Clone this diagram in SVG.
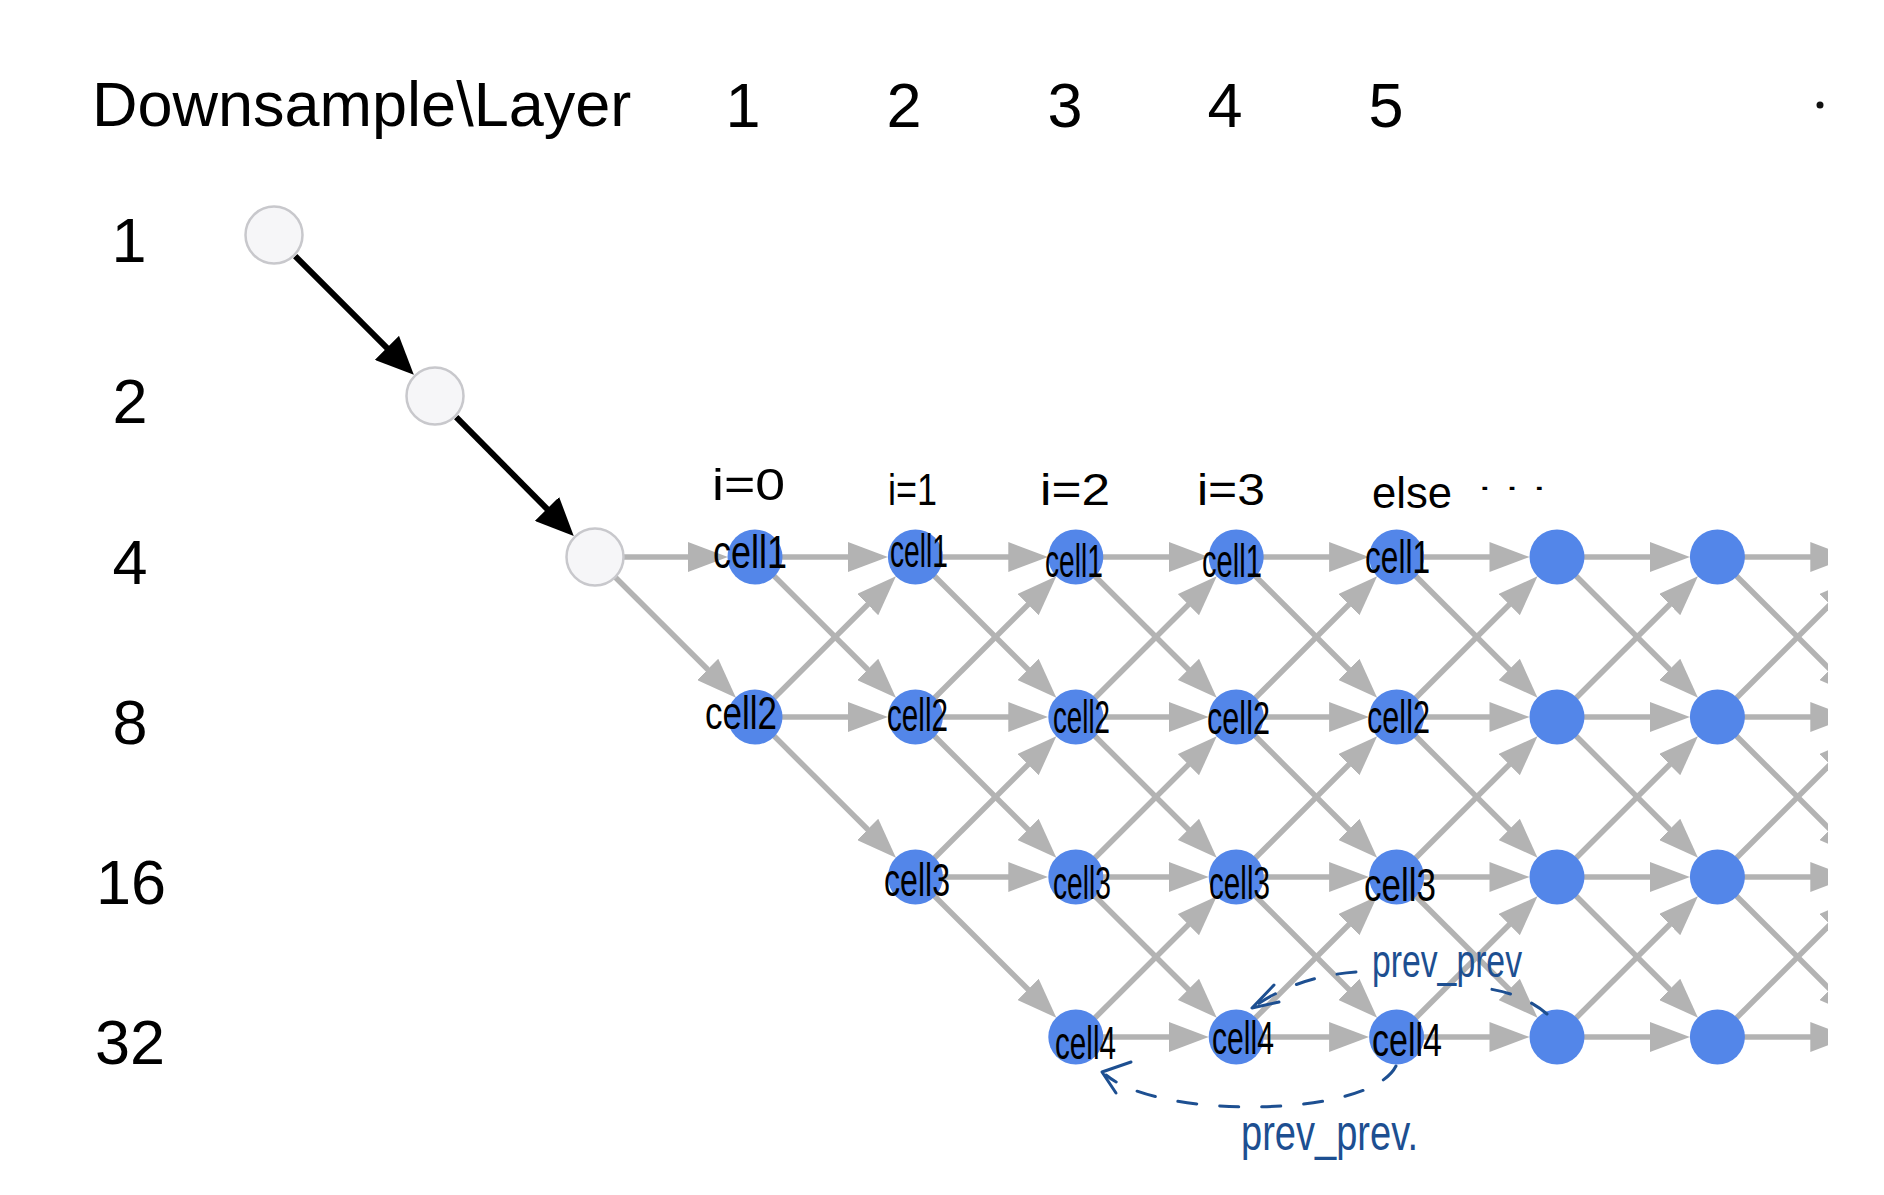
<svg xmlns="http://www.w3.org/2000/svg" width="1884" height="1195" viewBox="0 0 1884 1195">
<style>
.lbl{font-family:"Liberation Sans",Arial,sans-serif;font-size:63px;fill:#000}
.e{stroke:#b3b3b3;stroke-width:5.5;fill:none;marker-end:url(#ag)}
.k{stroke:#000;stroke-width:6;marker-end:url(#ak)}
.g{fill:#f6f6f8;stroke:#c8c8cc;stroke-width:2.5}
.b{fill:#5386e9}
.hw{font-family:"Liberation Sans",Arial,sans-serif;font-size:44px;fill:#000}
.cl{font-family:"Liberation Sans",Arial,sans-serif;font-size:47px;fill:#000}
.hb{font-family:"Liberation Sans",Arial,sans-serif;fill:#1d4f91}
.dash{fill:none;stroke:#1d4f91;stroke-width:3;stroke-dasharray:19 23;stroke-linecap:round}
.ah{fill:none;stroke:#1d4f91;stroke-width:3;stroke-linecap:round;stroke-linejoin:round}
</style>
<defs>
<marker id="ag" markerUnits="userSpaceOnUse" markerWidth="40" markerHeight="30" refX="20" refY="15" orient="auto" viewBox="0 0 40 30"><path d="M0,0L40,15L0,30z" fill="#b3b3b3"/></marker>
<marker id="ak" markerUnits="userSpaceOnUse" markerWidth="38" markerHeight="34" refX="19" refY="17" orient="auto" viewBox="0 0 38 34"><path d="M0,0L38,17L0,34z" fill="#000"/></marker>
<line id="eh" class="e" x1="0" y1="0" x2="112.9" y2="0"/>
<line id="ed" class="e" x1="0" y1="0" x2="126.8" y2="126.5"/>
<line id="eu" class="e" x1="0" y1="0" x2="126.8" y2="-126.5"/>
<g id="colset">
<use href="#eh"/><use href="#ed"/>
<use href="#eh" y="160"/><use href="#eu" y="160"/><use href="#ed" y="160"/>
<use href="#eh" y="320"/><use href="#eu" y="320"/><use href="#ed" y="320"/>
<use href="#eh" y="480"/><use href="#eu" y="480"/>
</g>
<clipPath id="clip"><rect x="0" y="0" width="1828" height="1195"/></clipPath>
</defs>
<rect width="1884" height="1195" fill="#fff"/>

<g id="headers">
<text class="lbl" x="92" y="126">Downsample\Layer</text>
<text class="lbl" x="743" y="127" text-anchor="middle">1</text>
<text class="lbl" x="904" y="127" text-anchor="middle">2</text>
<text class="lbl" x="1065" y="127" text-anchor="middle">3</text>
<text class="lbl" x="1225" y="127" text-anchor="middle">4</text>
<text class="lbl" x="1386" y="127" text-anchor="middle">5</text>
<circle cx="1820" cy="105" r="3.5" fill="#111"/>
<text class="lbl" x="129" y="262" text-anchor="middle">1</text>
<text class="lbl" x="130" y="423" text-anchor="middle">2</text>
<text class="lbl" x="130" y="584" text-anchor="middle">4</text>
<text class="lbl" x="130" y="744" text-anchor="middle">8</text>
<text class="lbl" x="131" y="904" text-anchor="middle">16</text>
<text class="lbl" x="130" y="1064" text-anchor="middle">32</text>
</g>

<g id="connectors" clip-path="url(#clip)">
<line class="k" x1="295.2" y1="256.2" x2="400.4" y2="361.3"/>
<line class="k" x1="456.2" y1="417.2" x2="560.4" y2="522.4"/>
<use href="#eh" x="595" y="557"/><use href="#ed" x="595" y="557"/>
<use href="#eh" x="755" y="557"/><use href="#ed" x="755" y="557"/>
<use href="#eh" x="755" y="717"/><use href="#eu" x="755" y="717"/><use href="#ed" x="755" y="717"/>
<use href="#eh" x="915.4" y="557"/><use href="#ed" x="915.4" y="557"/>
<use href="#eh" x="915.4" y="717"/><use href="#eu" x="915.4" y="717"/><use href="#ed" x="915.4" y="717"/>
<use href="#eh" x="915.4" y="877"/><use href="#eu" x="915.4" y="877"/><use href="#ed" x="915.4" y="877"/>
<use href="#colset" x="1075.8" y="557"/>
<use href="#colset" x="1236.2" y="557"/>
<use href="#colset" x="1396.6" y="557"/>
<use href="#colset" x="1557" y="557"/>
<use href="#colset" x="1717.4" y="557"/>
</g>

<g id="nodes">
<g id="n-l0-d1"><circle class="g" cx="274" cy="235" r="28.5"/></g>
<g id="n-l1-d2"><circle class="g" cx="435" cy="396" r="28.5"/></g>
<g id="n-l2-d4"><circle class="g" cx="595" cy="557" r="28.5"/></g>

<g id="n-l3-d4"><circle class="b" cx="755" cy="557" r="27.5"/><text class="cl" x="713" y="568" textLength="74" lengthAdjust="spacingAndGlyphs">cell1</text></g>
<g id="n-l3-d8"><circle class="b" cx="755" cy="717" r="27.5"/><text class="cl" x="705" y="729" textLength="72" lengthAdjust="spacingAndGlyphs">cell2</text></g>

<g id="n-l4-d4"><circle class="b" cx="915.4" cy="557" r="27.5"/><text class="cl" x="890" y="567" textLength="58" lengthAdjust="spacingAndGlyphs">cell1</text></g>
<g id="n-l4-d8"><circle class="b" cx="915.4" cy="717" r="27.5"/><text class="cl" x="887" y="731" textLength="61" lengthAdjust="spacingAndGlyphs">cell2</text></g>
<g id="n-l4-d16"><circle class="b" cx="915.4" cy="877" r="27.5"/><text class="cl" x="884" y="896" textLength="66" lengthAdjust="spacingAndGlyphs">cell3</text></g>

<g id="n-l5-d4"><circle class="b" cx="1075.8" cy="557" r="27.5"/><text class="cl" x="1045" y="577" textLength="58" lengthAdjust="spacingAndGlyphs">cell1</text></g>
<g id="n-l5-d8"><circle class="b" cx="1075.8" cy="717" r="27.5"/><text class="cl" x="1053" y="733" textLength="57" lengthAdjust="spacingAndGlyphs">cell2</text></g>
<g id="n-l5-d16"><circle class="b" cx="1075.8" cy="877" r="27.5"/><text class="cl" x="1053" y="899" textLength="58" lengthAdjust="spacingAndGlyphs">cell3</text></g>
<g id="n-l5-d32"><circle class="b" cx="1075.8" cy="1037" r="27.5"/><text class="cl" x="1055" y="1059" textLength="61" lengthAdjust="spacingAndGlyphs">cell4</text></g>

<g id="n-l6-d4"><circle class="b" cx="1236.2" cy="557" r="27.5"/><text class="cl" x="1202" y="577" textLength="60" lengthAdjust="spacingAndGlyphs">cell1</text></g>
<g id="n-l6-d8"><circle class="b" cx="1236.2" cy="717" r="27.5"/><text class="cl" x="1207" y="734" textLength="63" lengthAdjust="spacingAndGlyphs">cell2</text></g>
<g id="n-l6-d16"><circle class="b" cx="1236.2" cy="877" r="27.5"/><text class="cl" x="1209" y="899" textLength="61" lengthAdjust="spacingAndGlyphs">cell3</text></g>
<g id="n-l6-d32"><circle class="b" cx="1236.2" cy="1037" r="27.5"/><text class="cl" x="1212" y="1054" textLength="62" lengthAdjust="spacingAndGlyphs">cell4</text></g>

<g id="n-l7-d4"><circle class="b" cx="1396.6" cy="557" r="27.5"/><text class="cl" x="1365" y="573" textLength="65" lengthAdjust="spacingAndGlyphs">cell1</text></g>
<g id="n-l7-d8"><circle class="b" cx="1396.6" cy="717" r="27.5"/><text class="cl" x="1367" y="733" textLength="63" lengthAdjust="spacingAndGlyphs">cell2</text></g>
<g id="n-l7-d16"><circle class="b" cx="1396.6" cy="877" r="27.5"/><text class="cl" x="1364" y="901" textLength="72" lengthAdjust="spacingAndGlyphs">cell3</text></g>
<g id="n-l7-d32"><circle class="b" cx="1396.6" cy="1037" r="27.5"/><text class="cl" x="1372" y="1056" textLength="70" lengthAdjust="spacingAndGlyphs">cell4</text></g>

<g id="n-l8-d4"><circle class="b" cx="1557" cy="557" r="27.5"/></g>
<g id="n-l8-d8"><circle class="b" cx="1557" cy="717" r="27.5"/></g>
<g id="n-l8-d16"><circle class="b" cx="1557" cy="877" r="27.5"/></g>
<g id="n-l8-d32"><circle class="b" cx="1557" cy="1037" r="27.5"/></g>

<g id="n-l9-d4"><circle class="b" cx="1717.4" cy="557" r="27.5"/></g>
<g id="n-l9-d8"><circle class="b" cx="1717.4" cy="717" r="27.5"/></g>
<g id="n-l9-d16"><circle class="b" cx="1717.4" cy="877" r="27.5"/></g>
<g id="n-l9-d32"><circle class="b" cx="1717.4" cy="1037" r="27.5"/></g>
</g>

<g id="annotations">
<text class="hw" x="712" y="500" textLength="73" lengthAdjust="spacingAndGlyphs">i=0</text>
<text class="hw" x="888" y="505" textLength="49" lengthAdjust="spacingAndGlyphs">i=1</text>
<text class="hw" x="1040" y="505" textLength="70" lengthAdjust="spacingAndGlyphs">i=2</text>
<text class="hw" x="1197" y="505" textLength="68" lengthAdjust="spacingAndGlyphs">i=3</text>
<text class="hw" x="1372" y="508"><tspan textLength="80" lengthAdjust="spacingAndGlyphs">else</tspan><tspan x="1478" y="490" font-size="30" textLength="68" lengthAdjust="spacingAndGlyphs">. . .</tspan></text>

<path class="dash" d="M1547 1014 Q1525 995 1490 989"/>
<path class="dash" d="M1356 972 Q1300 976 1258 1004"/>
<path class="ah" d="M1274 985 L1252 1008 L1279 1002"/>
<text class="hb" x="1372" y="977" font-size="46" textLength="150" lengthAdjust="spacingAndGlyphs">prev_prev</text>

<path class="dash" d="M1396 1066 C1370 1118 1160 1120 1106 1075"/>
<path class="ah" d="M1131 1062 L1102 1072 L1116 1093"/>
<text class="hb" x="1241" y="1150" font-size="50" textLength="177" lengthAdjust="spacingAndGlyphs">prev_prev.</text>
</g>
</svg>
